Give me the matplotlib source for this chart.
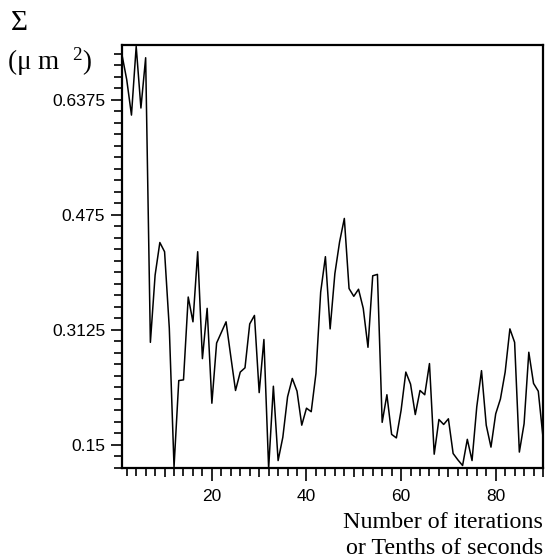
import matplotlib
matplotlib.use("Agg")
import matplotlib.pyplot as plt
import numpy as np
from matplotlib.ticker import FixedLocator, FixedFormatter

plt.rcParams['mathtext.fontset'] = 'custom'
plt.rcParams['mathtext.rm'] = 'Liberation Serif'
plt.rcParams['mathtext.it'] = 'Liberation Serif:italic'

iterations = list(range(1, 91))
sigma = [0.701, 0.666, 0.616, 0.713, 0.626, 0.697, 0.295, 0.390, 0.436, 0.423,
         0.315, 0.119, 0.241, 0.242, 0.359, 0.324, 0.423, 0.272, 0.343, 0.209,
         0.294, 0.309, 0.324, 0.275, 0.227, 0.253, 0.259, 0.321, 0.333, 0.224,
         0.299, 0.117, 0.233, 0.128, 0.161, 0.218, 0.244, 0.226, 0.178, 0.202,
         0.197, 0.251, 0.366, 0.416, 0.314, 0.392, 0.437, 0.470, 0.371, 0.360,
         0.370, 0.343, 0.288, 0.389, 0.391, 0.182, 0.221, 0.165, 0.160, 0.199,
         0.253, 0.236, 0.193, 0.227, 0.221, 0.265, 0.137, 0.186, 0.179, 0.187,
         0.138, 0.129, 0.121, 0.158, 0.128, 0.204, 0.255, 0.178, 0.147, 0.194,
         0.215, 0.253, 0.314, 0.295, 0.140, 0.180, 0.281, 0.237, 0.226, 0.161]

y_tick_values = [0.15, 0.3125, 0.475, 0.6375]
y_tick_labels = ["0.15", "0.3125", "0.475", "0.6375"]
x_tick_values = [10, 20, 30, 40, 50, 60, 70, 80, 90]
x_tick_labels = ["", "20", "", "40", "", "60", "", "80", ""]

fig = plt.figure(figsize=(5.46, 5.58), dpi=100)
ax = fig.add_axes([122/546, 1-468/558, (543-122)/546, (468-45)/558])

ax.plot(iterations, sigma, color='black', linewidth=1.1)
ax.set_xlim(1, 90)
ax.set_ylim(0.1175, 0.715)

for s in ax.spines.values():
    s.set_linewidth(1.6)
    s.set_color('black')

ax.xaxis.set_major_locator(FixedLocator(x_tick_values))
ax.xaxis.set_major_formatter(FixedFormatter(x_tick_labels))
ax.xaxis.set_minor_locator(FixedLocator(np.arange(2, 91, 2)))
ax.yaxis.set_major_locator(FixedLocator(y_tick_values))
ax.yaxis.set_major_formatter(FixedFormatter(y_tick_labels))
ax.yaxis.set_minor_locator(FixedLocator(0.15 + 0.01625*np.arange(-2, 36)))

ax.tick_params(axis='both', which='major', direction='out', length=8, width=1.2,
               labelsize=12.5, color='black', pad=4)
ax.tick_params(axis='both', which='minor', direction='out', length=6, width=1.2, color='black')
ax.tick_params(axis='x', which='major', pad=7)
for t, lab in zip(ax.xaxis.get_major_ticks(), x_tick_labels):
    if lab == "":
        t.tick1line.set_markersize(6.5)
    else:
        t.tick1line.set_markersize(9)
for lab in ax.get_xticklabels() + ax.get_yticklabels():
    lab.set_fontfamily('Liberation Sans')

fig.text(11/546, 1-23/558, "Σ", fontfamily='Liberation Serif', fontsize=21, ha='left', va='center')
fig.text(7/546, 1-62/558, "(μ m  $^{2}$)", fontfamily='Liberation Serif', fontsize=19.5, ha='left', va='center')
fig.text(543/546, 1-523/558, "Number of iterations", fontfamily='Liberation Serif', fontsize=17.3, ha='right', va='center')
fig.text(543/546, 1-548/558, "or Tenths of seconds", fontfamily='Liberation Serif', fontsize=17.3, ha='right', va='center')

fig.savefig("out.png", dpi=100)
